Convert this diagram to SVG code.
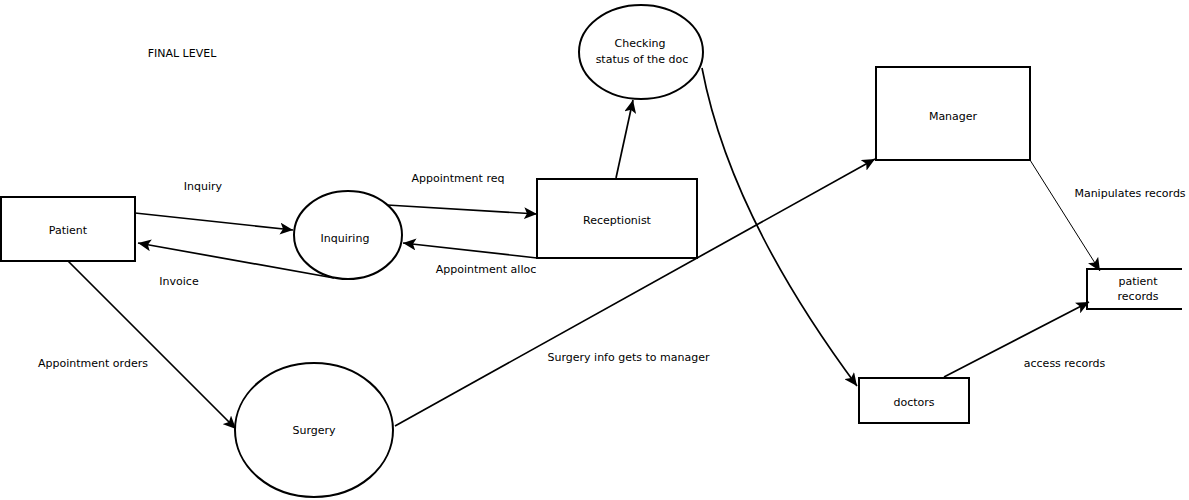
<svg xmlns="http://www.w3.org/2000/svg" width="1189" height="500" viewBox="0 0 1189 500">
<style>
.shape{fill:#fff;stroke:#000;stroke-width:2}
.open{fill:none;stroke:#000;stroke-width:2}
.conn{fill:none;stroke:#000;stroke-width:1.7}
.thin{fill:none;stroke:#000;stroke-width:1}
text{font-family:"DejaVu Sans",Verdana,sans-serif;font-size:11px;fill:#000;text-anchor:middle}
</style>
<defs>
<marker id="arr" markerUnits="userSpaceOnUse" markerWidth="14" markerHeight="12" refX="13" refY="6" orient="auto">
<path d="M0,0 L13,6 L0,12 L3,6 z" fill="#000"/>
</marker>
</defs>
<rect width="1189" height="500" fill="#fff"/>
<text x="182" y="56.5">FINAL LEVEL</text>
<g id="connectors">
<line class="conn" x1="135" y1="213" x2="293" y2="230" marker-end="url(#arr)"/>
<line class="conn" x1="334" y1="278" x2="138" y2="243" marker-end="url(#arr)"/>
<line class="conn" x1="387" y1="205" x2="537" y2="214" marker-end="url(#arr)"/>
<line class="conn" x1="537" y1="258" x2="403" y2="243" marker-end="url(#arr)"/>
<line class="conn" x1="616" y1="178" x2="633" y2="100" marker-end="url(#arr)"/>
<path class="conn" d="M702,68 Q730,215 857,386" marker-end="url(#arr)"/>
<line class="conn" x1="68" y1="261" x2="236" y2="429" marker-end="url(#arr)"/>
<line class="conn" x1="395" y1="426" x2="875" y2="159" marker-end="url(#arr)"/>
<line class="thin" x1="1030" y1="160" x2="1100" y2="271" marker-end="url(#arr)"/>
<line class="conn" x1="944" y1="377" x2="1089" y2="302" marker-end="url(#arr)"/>
<text x="203" y="190">Inquiry</text>
<text x="179" y="285">Invoice</text>
<text x="458" y="182">Appointment req</text>
<text x="486" y="273">Appointment alloc</text>
<text x="93" y="367">Appointment orders</text>
<text x="628.5" y="360.5">Surgery info gets to manager</text>
<text x="1130" y="196.5">Manipulates records</text>
<text x="1064.5" y="367">access records</text>
</g>
<g id="patient">
<rect class="shape" x="1" y="197" width="134" height="64"/>
<text x="68" y="234">Patient</text>
</g>
<g id="inquiring">
<ellipse class="shape" cx="348" cy="235" rx="54" ry="44"/>
<text x="345" y="241.5">Inquiring</text>
</g>
<g id="receptionist">
<rect class="shape" x="537" y="179" width="160" height="79"/>
<text x="617" y="224">Receptionist</text>
</g>
<g id="checking">
<ellipse class="shape" cx="641" cy="52" rx="62" ry="47"/>
<text x="640" y="47">Checking</text>
<text x="642" y="62.5">status of the doc</text>
</g>
<g id="surgery">
<ellipse class="shape" cx="314" cy="430" rx="79" ry="67"/>
<text x="314" y="434">Surgery</text>
</g>
<g id="manager">
<rect class="shape" x="876" y="67" width="154" height="93"/>
<text x="953" y="120">Manager</text>
</g>
<g id="doctors">
<rect class="shape" x="859" y="378" width="110" height="45"/>
<text x="914" y="405.5">doctors</text>
</g>
<g id="patient-records">
<path class="open" d="M1182,269 H1087 V309 H1182"/>
<text x="1138" y="285">patient</text>
<text x="1138" y="300">records</text>
</g>
</svg>
